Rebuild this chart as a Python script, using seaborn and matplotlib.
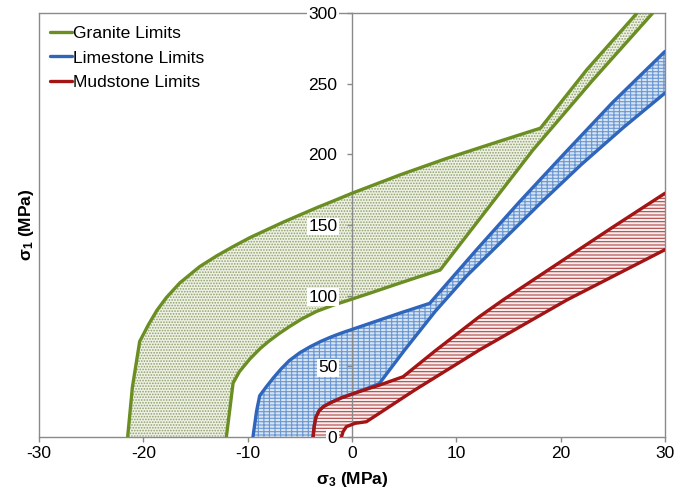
import numpy as np
import matplotlib
matplotlib.use("Agg")
import matplotlib.pyplot as plt
import seaborn as sns

# Strength envelopes (sigma_3 vs sigma_1, MPa) for each rock type
granite_upper_s3 = [-21.5, -21.05, -20.35, -19.5, -18.7, -17.8, -16.5, -14.6, -13.0, -11.4, -9.8,
                    -8.2, -6.6, -5.0, -3.4, -1.8, 0.0, 4.6, 9.0, 14.0, 18.06, 22.5, 27.3]
granite_upper_s1 = [0, 35, 67.5, 79.5, 89.5, 98.5, 109, 120.5, 128, 134.7, 141,
                    146.5, 152, 157.1, 162.2, 167, 172.5, 185.5, 197, 209, 218.6, 260, 300]
granite_lower_s3 = [-12.04, -11.7, -11.4, -10.8, -9.8, -8.8, -8.0, -7.0, -6.0, -4.8, -3.4, -1.8,
                    0.0, 2.0, 4.0, 6.2, 8.45, 17.35, 23.0, 28.8]
granite_lower_s1 = [0, 20, 38, 46, 55, 62.5, 67.5, 73, 78, 83.5, 88.8, 93.2,
                    97.5, 102.4, 107.4, 112.8, 118.1, 203.2, 252, 300]

limestone_upper_s3 = [-9.49, -9.15, -8.85, -8.2, -7.5, -6.8, -6.0, -5.0, -4.0, -3.0, -2.0, -1.0,
                      0.0, 2.5, 4.6, 7.45, 12.0, 16.0, 20.4, 25.0, 30.0]
limestone_upper_s1 = [0, 18, 29, 35.5, 42, 48, 54, 59.5, 63.8, 67.5, 70.7, 73.5,
                      76, 82.3, 87.6, 94.5, 133, 166, 201, 237, 273]
limestone_lower_s3 = [-3.72, -3.6, -3.45, -3.15, -2.7, -2.0, -1.0, 0.5, 2.6, 5.0, 8.0, 11.0,
                      14.3, 18.0, 22.0, 26.0, 30.0]
limestone_lower_s1 = [0, 8, 14, 18.5, 21.5, 24.3, 27.6, 31.5, 37.5, 61, 89, 114,
                      138, 165, 193, 219, 243.5]

mudstone_upper_s3 = [-3.74, -3.62, -3.45, -3.15, -2.7, -2.0, -1.0, 0.5, 2.65, 4.9, 8.0, 12.2,
                     14.5, 20.0, 25.0, 30.0]
mudstone_upper_s1 = [0, 8, 14, 18.5, 21.5, 24.3, 27.6, 31.5, 36.6, 42.5, 61, 85,
                     97, 124, 148.5, 172.5]
mudstone_lower_s3 = [-1.0, -0.86, -0.54, 0.3, 1.38, 6.0, 12.2, 20.6, 30.0]
mudstone_lower_s1 = [0, 3.5, 7.1, 9.5, 10.6, 33, 61.4, 96.9, 132.5]

x_ticks = [-30, -20, -10, 0, 10, 20, 30]
y_ticks = [0, 50, 100, 150, 200, 250, 300]
labels = ["Granite Limits", "Limestone Limits", "Mudstone Limits"]

sns.set_style("white")
plt.rcParams["font.family"] = ["Liberation Sans", "DejaVu Sans"]
plt.rcParams["axes.unicode_minus"] = False
plt.rcParams["text.color"] = "black"
plt.rcParams["axes.labelcolor"] = "black"
plt.rcParams["mathtext.fontset"] = "custom"
plt.rcParams["mathtext.rm"] = "Liberation Sans"
plt.rcParams["mathtext.it"] = "Liberation Sans:italic"
plt.rcParams["mathtext.bf"] = "Liberation Sans:bold"
plt.rcParams["mathtext.default"] = "bf"
plt.rcParams["hatch.linewidth"] = 0.8

frame_col = "#8a8a8a"
styles = [
    # line colour, face colour, hatch, hatch colour
    ("#6B8E23", "#eef1e3", "......", "#8d9f6c"),
    ("#2F66BC", "#d6e4f4", "-----|||", "#6b97d3"),
    ("#A31515", "#fbeeee", "-----", "#b04545"),
]
curves = [
    (granite_upper_s3, granite_upper_s1, granite_lower_s3, granite_lower_s1),
    (limestone_upper_s3, limestone_upper_s1, limestone_lower_s3, limestone_lower_s1),
    (mudstone_upper_s3, mudstone_upper_s1, mudstone_lower_s3, mudstone_lower_s1),
]

fig = plt.figure(figsize=(6.88, 4.9), dpi=100)
ax = fig.add_axes([39 / 688, 1 - 436.7 / 490, 626 / 688, 423.4 / 490])

for i, ((ux, uy, lx, ly), (lc, fc, hatch, hc), lab) in enumerate(zip(curves, styles, labels)):
    # shaded band between the two limits
    ax.fill(list(ux) + list(lx)[::-1], list(uy) + list(ly)[::-1],
            facecolor=fc, edgecolor=hc, hatch=hatch, linewidth=0, zorder=1 + 0.1 * i)
    sns.lineplot(x=ux, y=uy, sort=False, estimator=None, color=lc, lw=2.4,
                 label=lab, ax=ax, zorder=3 + i)
    sns.lineplot(x=lx, y=ly, sort=False, estimator=None, color=lc, lw=2.4,
                 legend=False, ax=ax, zorder=3 + i)

ax.set_xlim(x_ticks[0], x_ticks[-1])
ax.set_ylim(y_ticks[0], y_ticks[-1])
ax.set_xticks(x_ticks)
ax.set_yticks(y_ticks)

# y axis sits at sigma_3 = 0, frame kept around the whole plot
ax.spines["left"].set_position(("data", 0))
for s in ax.spines.values():
    s.set_color(frame_col)
    s.set_linewidth(1.0)
    s.set_visible(True)
ax.axvline(x_ticks[0], color=frame_col, lw=1.0, clip_on=False, zorder=2.5)

ax.set_axisbelow(False)
ax.yaxis.set_zorder(6)
ax.xaxis.set_zorder(6)
ax.tick_params(axis="y", direction="out", length=3.6, width=1, color=frame_col,
               pad=7, labelsize=12.5, labelcolor="black", left=True)
ax.tick_params(axis="x", direction="out", length=3.6, width=1, color=frame_col,
               pad=3, labelsize=12.5, labelcolor="black", bottom=True)
for t in ax.get_yticklabels():
    t.set_bbox(dict(facecolor="white", edgecolor="none", pad=1.0))

ax.set_xlabel(r"$\sigma_3$ (MPa)", fontsize=12.5, fontweight="bold", color="black")
ax.set_ylabel(r"$\sigma_1$ (MPa)", fontsize=12.5, fontweight="bold", color="black")
ax.xaxis.set_label_coords(0.5, -0.078)
ax.yaxis.set_label_coords(-0.004, 0.5)

leg = ax.legend(loc="upper left", bbox_to_anchor=(0.0176, 0.970), frameon=False,
                handlelength=1.25, handletextpad=0.05, labelspacing=0.52,
                fontsize=12.6, borderaxespad=0, borderpad=0)
for t in leg.get_texts():
    t.set_color("black")

fig.savefig("out.png", dpi=100)
